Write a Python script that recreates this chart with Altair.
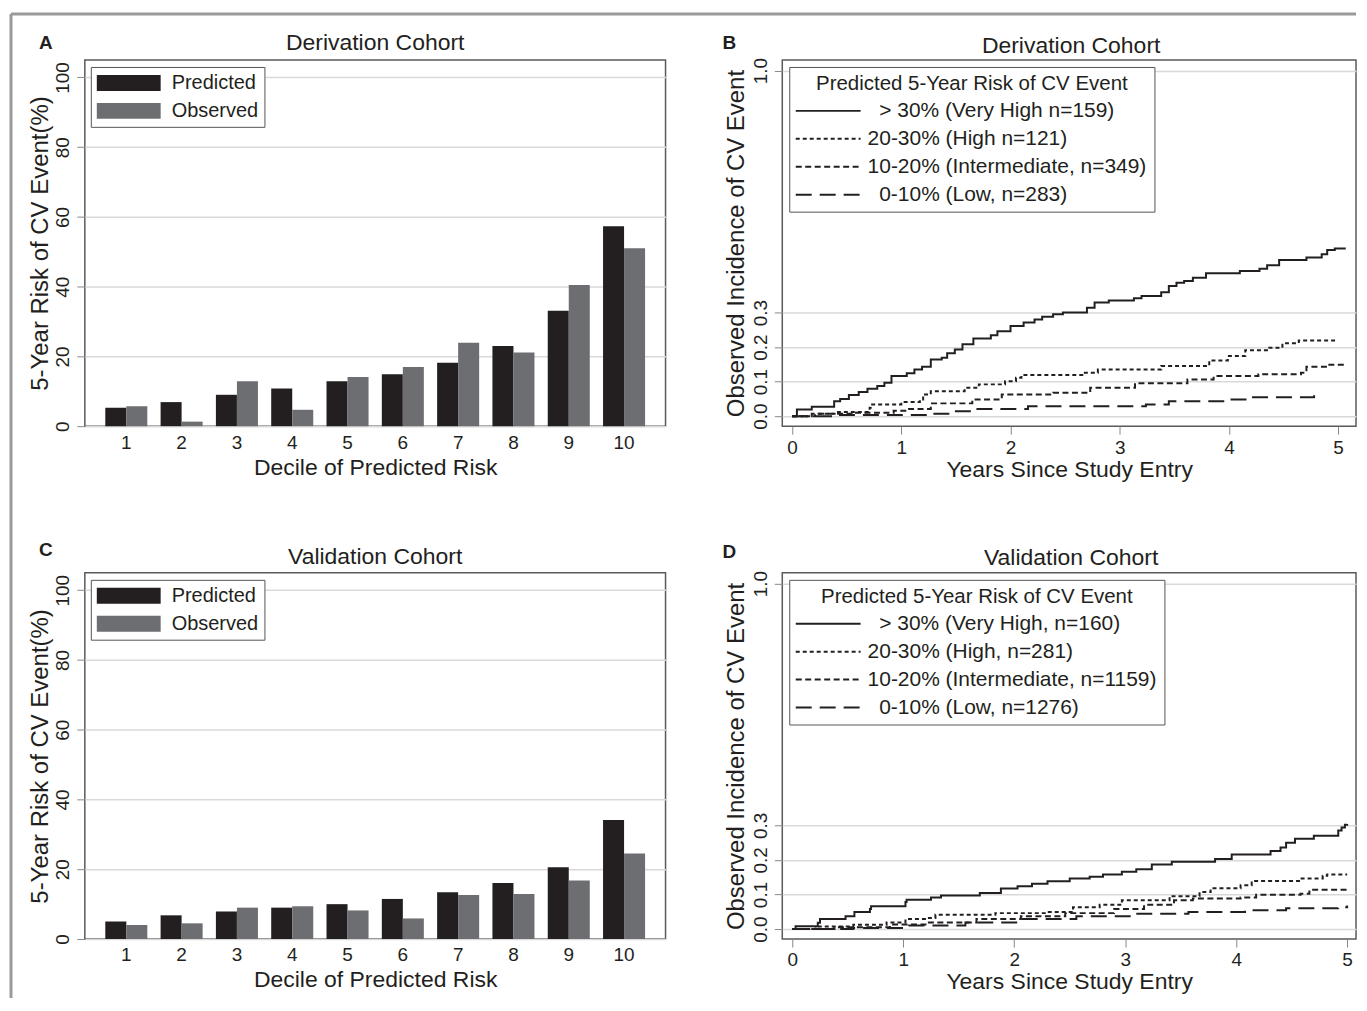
import altair as alt
import pandas as pd

# ---------------- data ----------------
deciles = list(range(1, 11))
deriv_predicted = [5.3, 6.9, 9.0, 10.8, 12.9, 14.9, 18.2, 23.0, 33.1, 57.3]
deriv_observed = [5.7, 1.3, 12.9, 4.7, 14.1, 17.0, 23.9, 21.1, 40.5, 51.0]
valid_predicted = [5.0, 6.8, 7.9, 9.0, 10.0, 11.5, 13.4, 16.1, 20.6, 34.1]
valid_observed = [4.0, 4.5, 9.0, 9.4, 8.2, 5.9, 12.6, 12.9, 16.8, 24.5]
bar_series = ["Predicted", "Observed"]
bar_colors = ["#231f20", "#6d6e71"]

SP = "\u200b\u00a0\u00a0"
groups_deriv = [SP + "> 30% (Very High n=159)", "20-30% (High n=121)",
                "10-20% (Intermediate, n=349)", SP + "0-10% (Low, n=283)"]
groups_valid = [SP + "> 30% (Very High, n=160)", "20-30% (High, n=281)",
                "10-20% (Intermediate, n=1159)", SP + "0-10% (Low, n=1276)"]

# Derivation cohort step curves (years, cumulative incidence)
b_vh_t = [0, 0.044, 0.18, 0.385, 0.44, 0.52, 0.61, 0.69, 0.78, 0.845, 0.91, 1.05, 1.12, 1.19, 1.27, 1.37,
          1.42, 1.49, 1.56, 1.66, 1.82, 1.88, 2.0, 2.12, 2.22, 2.29, 2.39, 2.48, 2.7, 2.77, 2.9, 3.13,
          3.2, 3.38, 3.45, 3.52, 3.59, 3.67, 3.79, 4.1, 4.28, 4.35, 4.46, 4.71, 4.85, 4.9, 4.97, 5.07]
b_vh_v = [0, .019, .027, .043, .050, .061, .070, .079, .087, .097, .116, .124, .135, .143, .164, .169,
          .182, .193, .208, .225, .234, .246, .261, .271, .280, .288, .295, .300, .314, .329, .335, .341,
          .348, .359, .377, .386, .391, .401, .414, .420, .427, .437, .452, .459, .469, .481, .485, .485]
b_h_t = [0, .21, .42, .71, .72, 1.0, 1.17, 1.2, 1.27, 1.58, 1.71, 1.95, 2.05, 2.1, 2.67, 2.8, 3.38,
         3.79, 3.82, 3.99, 4.15, 4.37, 4.49, 4.64, 5.0]
b_h_v = [0, .007, .012, .024, .034, .041, .048, .063, .072, .082, .092, .101, .111, .119, .126, .135,
         .145, .150, .161, .174, .191, .198, .211, .219, .219]
b_i_t = [0, .18, .56, .93, 1.07, 1.27, 1.65, 1.92, 2.39, 2.73, 3.14, 3.62, 3.86, 4.27, 4.66, 4.71, 4.91, 5.07]
b_i_v = [0, .007, .010, .016, .021, .037, .048, .063, .068, .082, .095, .106, .116, .121, .126, .143, .149, .150]
b_l_t = [0, .42, 1.27, 1.44, 1.68, 2.16, 3.24, 3.45, 3.96, 4.17, 4.78, 4.83]
b_l_v = [0, .003, .007, .014, .021, .029, .034, .043, .048, .055, .063, .065]

# Validation cohort step curves
d_vh_t = [0, .03, .23, .25, .48, .56, .70, .71, 1.02, 1.03, 1.25, 1.34, 1.69, 1.88, 2.03, 2.16, 2.3, 2.5,
          2.68, 2.8, 2.97, 3.1, 3.24, 3.42, 3.81, 3.96, 4.31, 4.4, 4.45, 4.53, 4.7, 4.92, 4.95, 4.98, 5.0]
d_vh_v = [0, .008, .018, .029, .037, .049, .058, .066, .078, .085, .091, .097, .104, .117, .124, .131,
          .138, .146, .151, .158, .166, .173, .187, .195, .203, .216, .226, .236, .250, .261, .270, .285,
          .294, .302, .304]
d_h_t = [0, .21, .55, .85, 1.02, 1.22, 1.29, 1.83, 2.3, 2.53, 2.77, 2.97, 3.4, 3.67, 3.77, 4.04, 4.14,
         4.58, 4.78, 4.82, 5.0]
d_h_v = [0, .007, .012, .019, .029, .032, .041, .046, .049, .063, .070, .083, .095, .107, .118, .127,
         .139, .146, .154, .158, .158]
d_i_t = [0, .38, .88, 1.22, 1.66, 2.06, 2.46, 2.9, 3.17, 3.44, 3.61, 4.04, 4.18, 4.58, 4.66, 5.0]
d_i_v = [0, .005, .013, .019, .029, .037, .046, .058, .070, .083, .088, .091, .099, .102, .114, .114]
d_l_t = [0, .55, 1.05, 1.56, 2.06, 2.56, 3.07, 3.57, 4.08, 4.45, 4.92, 5.0]
d_l_v = [0, .003, .010, .019, .029, .037, .044, .049, .054, .060, .063, .068]

dash_patterns = [[1, 0], [4, 3], [6, 3.5], [16, 8]]

# ---------------- style ----------------
DARK = "#231f20"
NARROW = "'Liberation Sans Narrow', 'Arial Narrow', 'Liberation Sans', Arial, sans-serif"
REG = "'Liberation Sans', Arial, Helvetica, sans-serif"
W1, W2, H = 582, 575, 367


def bars_df(pred, obs):
    rows = []
    for d, p, o in zip(deciles, pred, obs):
        rows.append({"decile": d, "series": "Predicted", "risk": p})
        rows.append({"decile": d, "series": "Observed", "risk": o})
    return pd.DataFrame(rows)


def curves_df(groups, series):
    rows = []
    for g, (ts, vs) in zip(groups, series):
        for t, v in zip(ts, vs):
            rows.append({"t": t, "v": v, "group": g})
    return pd.DataFrame(rows)


def text_layer(txt, x, y, size, font, weight="normal"):
    return alt.Chart(pd.DataFrame({"s": [txt]})).mark_text(
        font=font, fontSize=size, fontWeight=weight, color=DARK,
        align="center", baseline="middle"
    ).encode(text="s:N", x=alt.value(x), y=alt.value(y))


def bar_panel(df, title, letter, ty, ly):
    bars = alt.Chart(df).mark_bar().encode(
        x=alt.X("decile:O",
                scale=alt.Scale(paddingInner=0.24, paddingOuter=0.37),
                axis=alt.Axis(title="Decile of Predicted Risk", labelAngle=0, ticks=False, tickSize=0,
                              labelPadding=7, labelFontSize=19, titleFont=NARROW, titleFontSize=23,
                              titlePadding=4, grid=False)),
        xOffset=alt.XOffset("series:N", scale=alt.Scale(domain=bar_series)),
        y=alt.Y("risk:Q",
                scale=alt.Scale(domain=[0, 105], nice=False),
                axis=alt.Axis(values=[0, 20, 40, 60, 80, 100], title="5-Year Risk of CV Event(%)",
                              labelAngle=270, labelAlign="center", labelBaseline="bottom",
                              labelPadding=4, labelFontSize=19, tickSize=8, titleFont=REG,
                              titleFontSize=24, titlePadding=1, grid=True)),
        color=alt.Color("series:N",
                        scale=alt.Scale(domain=bar_series, range=bar_colors),
                        legend=alt.Legend(title=None, orient="none", legendX=6, legendY=7,
                                          symbolType="M-3.2,-0.8H3.2V0.8H-3.2Z", symbolSize=400,
                                          symbolOffset=22, labelOffset=33, symbolStrokeWidth=0,
                                          labelFont=NARROW, labelFontSize=20, labelColor=DARK,
                                          strokeColor="#555", fillColor="white", padding=6,
                                          rowPadding=8, labelLimit=300)),
    ).properties(width=W1, height=H)
    return alt.layer(bars, text_layer(title, W1 / 2, ty, 23, NARROW),
                     text_layer(letter, -39, ly, 19, REG, "bold"))


def curve_panel(df, groups, title, letter, xmax, ty, ly):
    lines = alt.Chart(df).mark_line(interpolate="step-after", color=DARK, strokeWidth=2).encode(
        x=alt.X("t:Q",
                scale=alt.Scale(domain=[-0.09, xmax], nice=False, zero=False),
                axis=alt.Axis(values=[0, 1, 2, 3, 4, 5], format="d", title="Years Since Study Entry",
                              tickSize=8, labelPadding=4, labelFontSize=19, titleFont=NARROW,
                              titleFontSize=23, titlePadding=1, grid=False)),
        y=alt.Y("v:Q",
                scale=alt.Scale(domain=[-0.029, 1.031], nice=False, zero=False),
                axis=alt.Axis(values=[0, 0.1, 0.2, 0.3, 1.0], format=".1f",
                              title="Observed Incidence of CV Event",
                              labelAngle=270, labelAlign="center", labelBaseline="bottom",
                              labelPadding=4, labelFontSize=19, tickSize=8, titleFont=REG,
                              titleFontSize=24, titlePadding=3, grid=True)),
        strokeDash=alt.StrokeDash("group:N",
                                  scale=alt.Scale(domain=groups, range=dash_patterns),
                                  legend=alt.Legend(title="Predicted 5-Year Risk of CV Event",
                                                    orient="none", legendX=7, legendY=7,
                                                    symbolType="M-6.5,0H6.5", symbolSize=100,
                                                    symbolOffset=21.5, labelOffset=29,
                                                    symbolStrokeWidth=2, symbolStrokeColor=DARK,
                                                    symbolFillColor="transparent",
                                                    labelFont=NARROW, labelFontSize=21, labelColor=DARK,
                                                    titleFont=NARROW, titleFontSize=20.5,
                                                    titleFontWeight="normal", titleColor=DARK,
                                                    titleAnchor="middle", titlePadding=6,
                                                    strokeColor="#555", fillColor="white",
                                                    padding=7, rowPadding=6, labelLimit=500,
                                                    titleLimit=500)),
    ).properties(width=W2, height=H)
    return alt.layer(lines, text_layer(title, W2 / 2 + 2, ty, 23, NARROW),
                     text_layer(letter, -53, ly, 19, REG, "bold"))


frame_df = pd.DataFrame({"k": [0]})
frame_top = alt.Chart(frame_df).mark_rule(color="#9a9a9a", strokeWidth=3).encode(
    x=alt.value(-74), x2=alt.value(1274), y=alt.value(-46), y2=alt.value(-46))
frame_left = alt.Chart(frame_df).mark_rule(color="#9a9a9a", strokeWidth=3).encode(
    x=alt.value(-74), x2=alt.value(-74), y=alt.value(-46), y2=alt.value(940))

panel_a = alt.layer(bar_panel(bars_df(deriv_predicted, deriv_observed), "Derivation Cohort", "A", -17, -17),
                    frame_top, frame_left)
panel_b = curve_panel(curves_df(groups_deriv, [(b_vh_t, b_vh_v), (b_h_t, b_h_v), (b_i_t, b_i_v), (b_l_t, b_l_v)]),
                      groups_deriv, "Derivation Cohort", "B", 5.164, -14, -17)
panel_c = bar_panel(bars_df(valid_predicted, valid_observed), "Validation Cohort", "C", -16, -23)
panel_d = curve_panel(curves_df(groups_valid, [(d_vh_t, d_vh_v), (d_h_t, d_h_v), (d_i_t, d_i_v), (d_l_t, d_l_v)]),
                      groups_valid, "Validation Cohort", "D", 5.08, -15, -21)

chart = alt.concat(
    panel_a, panel_b, panel_c, panel_d,
    columns=2,
    spacing=alt.RowColnumber(row=147, column=117),
    bounds="flush",
).resolve_scale(
    x="independent", y="independent", color="independent", strokeDash="independent", xOffset="independent"
).resolve_legend(
    color="independent", strokeDash="independent"
).properties(
    padding={"left": 0, "top": 2, "right": 0, "bottom": 0}
).configure_view(
    stroke="#5a5a5a", strokeWidth=1.5
).configure_axis(
    domain=False, labelFont=REG, labelColor=DARK, titleColor=DARK, titleFontWeight="normal",
    gridColor="#d9d9d9", gridWidth=1.5, tickColor="#888"
)

chart.save("out.html", embed_options={"renderer": "svg", "actions": False})
